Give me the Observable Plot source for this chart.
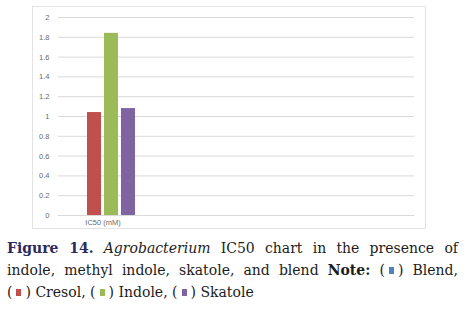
<!DOCTYPE html>
<html><head><meta charset="utf-8">
<script src="https://cdn.jsdelivr.net/npm/d3@7"></script>
<script src="https://cdn.jsdelivr.net/npm/@observablehq/plot@0.6"></script>
<style>
body{margin:0;background:#fff;width:465px;height:322px;overflow:hidden;position:relative}
#box{position:absolute;left:32px;top:6px;width:392px;height:221px;border:1px solid #e3e3e3}
#box svg{display:block}
#cap{position:absolute;left:7px;top:237px;width:451px;font-family:"DejaVu Serif",serif;font-size:14px;line-height:22px;color:#1c1c1c;text-align:justify;text-align-last:left}
#cap b.fig{color:#2a2a5c}
.nw{white-space:nowrap}
.sq{display:inline-block;width:5px;height:7px;vertical-align:1px;margin:0 4px}
</style></head>
<body>
<div id="box"></div>
<div id="cap"><b class="fig">Figure 14.</b> <i>Agrobacterium</i> IC50 chart in the presence of indole, methyl indole, skatole, and blend <b>Note:</b> <span class="nw">(<span class="sq" style="background:#4F81BD"></span>) Blend,</span> <span class="nw">(<span class="sq" style="background:#C0504D"></span>) Cresol,</span> <span class="nw">(<span class="sq" style="background:#9BBB59"></span>) Indole,</span> <span class="nw">(<span class="sq" style="background:#8064A2"></span>) Skatole</span></div>
<script>
const categories = ["IC50 (mM)", " ", "  ", "   "];
const series = ["Blend", "Cresol", "Indole", "Skatole"];
const values = [0, 1.04, 1.84, 1.08];
const colors = ["#4F81BD", "#C0504D", "#9BBB59", "#8064A2"];
const yTicks = [0, 0.2, 0.4, 0.6, 0.8, 1, 1.2, 1.4, 1.6, 1.8, 2];

const data = series.map((s, i) => ({category: categories[0], series: s, value: values[i]}));
const grid = categories.flatMap(c => yTicks.map(t => ({category: c, tick: t})));

const chart = Plot.plot({
  width: 392, height: 221,
  marginLeft: 24, marginRight: 10, marginTop: 10, marginBottom: 13,
  style: {fontFamily: "Liberation Sans, Arial, sans-serif", fontSize: "7.5px", color: "#6a6a6a", background: "transparent"},
  fx: {domain: categories, padding: 0, label: null, axis: "bottom", tickSize: 0, tickPadding: 4},
  x: {domain: series, paddingInner: 0.2, paddingOuter: 0.7, axis: null},
  y: {domain: [0, 2], ticks: yTicks, tickFormat: d => String(d), label: null, tickSize: 0, tickPadding: 9},
  color: {domain: series, range: colors},
  marks: [
    Plot.ruleY(grid, {fx: "category", y: "tick", stroke: "#d9d9d9", strokeWidth: 1}),
    Plot.barY(data, {fx: "category", x: "series", y: "value", fill: "series"})
  ]
});
document.getElementById("box").appendChild(chart);
</script>
</body></html>
